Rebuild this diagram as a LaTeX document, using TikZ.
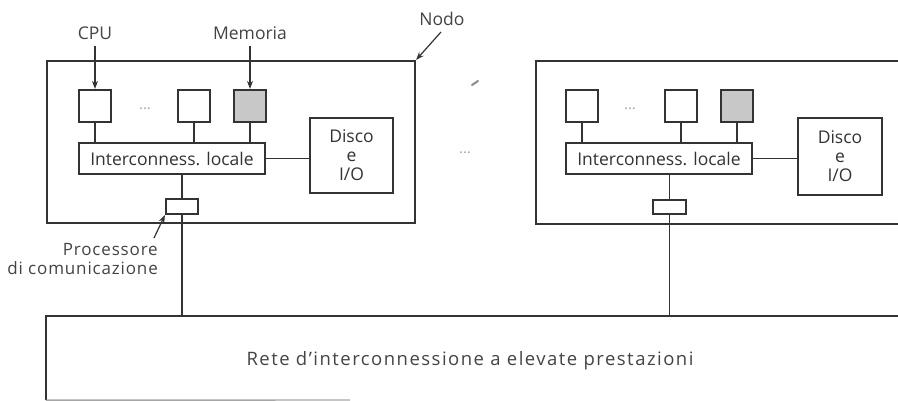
\documentclass[tikz,border=0pt]{standalone}
\usepackage{fontspec}
\setmainfont{Open Sans}
\usetikzlibrary{arrows.meta}
\definecolor{ink}{HTML}{333333}
\definecolor{txt}{HTML}{444444}
\definecolor{memfill}{HTML}{C8C8C8}
\tikzset{
  box/.style={draw=ink, line width=2.2pt, rectangle, inner sep=0pt, anchor=center},
  wire/.style={draw=ink, line width=1.8pt},
  ptr/.style={draw=ink, line width=1.2pt, -{Stealth[length=8pt,width=6pt]}},
  lbl/.style={text=txt, font=\fontsize{17.5}{20}\selectfont, inner sep=0pt},
  dots/.style={text=gray!70, font=\fontsize{15}{16}\selectfont, inner sep=0pt}
}
\begin{document}
\begin{tikzpicture}[x=1pt,y=-1pt]
\useasboundingbox (0,0) rectangle (898,401);
\clip (0,0) rectangle (898,401);
\fill[white] (0,0) rectangle (898,401);

% ---------- left node ----------
\node[box, minimum width=368pt, minimum height=162pt] (L) at (231,142) {};
\node[box, minimum width=32pt, minimum height=32pt] (l1) at (95,106) {};
\node[box, minimum width=32pt, minimum height=32pt] (l2) at (194,106) {};
\node[box, fill=memfill, minimum width=32pt, minimum height=32pt] (l3) at (250,106) {};
\node[dots] (ld) at (145,109) {...};
\node[box, minimum width=186pt, minimum height=31pt, lbl, text=ink] (lic) at (172,158.5) {Interconness. locale};
\node[box, minimum width=83pt, minimum height=75pt, lbl, text=ink, align=center, font=\fontsize{17.5}{19}\selectfont] (ldk) at (351.5,155.5) {Disco\\e\\I/O};
\node[box, minimum width=32pt, minimum height=15pt] (lcp) at (182,206.5) {};

\draw[wire] (l1.south) -- (l1.south |- lic.north);
\draw[wire] (l2.south) -- (l2.south |- lic.north);
\draw[wire] (l3.south) -- (l3.south |- lic.north);
\draw[wire] (lic.east) -- (lic.east -| ldk.west);
\draw[wire] (lcp.north) -- (lcp.north |- lic.south);

% ---------- right node ----------
\node[box, minimum width=424pt, minimum height=163pt] (R) at (748,142.5) {};
\node[box, minimum width=32pt, minimum height=32pt] (r1) at (582,106) {};
\node[box, minimum width=32pt, minimum height=32pt] (r2) at (681,106) {};
\node[box, fill=memfill, minimum width=32pt, minimum height=32pt] (r3) at (737,106) {};
\node[dots] (rd) at (630,109) {...};
\node[box, minimum width=186pt, minimum height=31pt, lbl, text=ink] (ric) at (659,158.5) {Interconness. locale};
\node[box, minimum width=84pt, minimum height=77pt, lbl, text=ink, align=center, font=\fontsize{17.5}{19}\selectfont] (rdk) at (840,156.5) {Disco\\e\\I/O};
\node[box, minimum width=33pt, minimum height=14pt] (rcp) at (669.5,207) {};

\draw[wire] (r1.south) -- (r1.south |- ric.north);
\draw[wire] (r2.south) -- (r2.south |- ric.north);
\draw[wire] (r3.south) -- (r3.south |- ric.north);
\draw[wire] (ric.east) -- (ric.east -| rdk.west);
\draw[wire] (rcp.north) -- (rcp.north |- ric.south);

% ---------- middle ----------
\node[dots] (md) at (465,153) {...};
\coordinate (mk1) at (478,81);
\coordinate (mk2) at (472,85);
\draw[draw=gray!90, line width=2pt, line cap=round] (mk1) -- (mk2);

% ---------- network ----------
\node[inner sep=0pt, minimum width=914pt, minimum height=84pt] (net) at (503,358) {};
\draw[wire, line width=2.2pt] (net.south west) -- (net.north west) -- (net.north east);
\coordinate (nb) at (350,400);
\draw[draw=gray!70, line width=1.4pt] (net.south west) -- (nb);
\node[lbl, font=\fontsize{18.5}{20}\selectfont\addfontfeature{LetterSpace=8}] (rete) at (470,361) {Rete d’interconnessione a elevate prestazioni};

\draw[wire] (lcp.south) -- (lcp.south |- net.north);
\draw[wire] (rcp.south) -- (rcp.south |- net.north);

% ---------- labels ----------
\node[lbl] (cpu) at (95,33) {CPU};
\node[lbl] (mem) at (250,33) {Memoria};
\node[lbl] (nodo) at (442,19) {Nodo};
\node[lbl, align=right, anchor=north east, font=\fontsize{17}{19}\selectfont\addfontfeature{LetterSpace=5}] (proc) at (158,243) {Processore\\di comunicazione};

\draw[ptr] (cpu.south) ++(0,6) coordinate (c0) (c0) -- (l1.north);
\draw[ptr] (mem.south) ++(0,6) coordinate (m0) (m0) -- (l3.north);
\coordinate (n0) at (441,32);
\draw[ptr] (n0) -- (L.north east);
\coordinate (p0) at (154,238);
\draw[ptr] (p0) -- (lcp.south west);
\end{tikzpicture}
\end{document}
